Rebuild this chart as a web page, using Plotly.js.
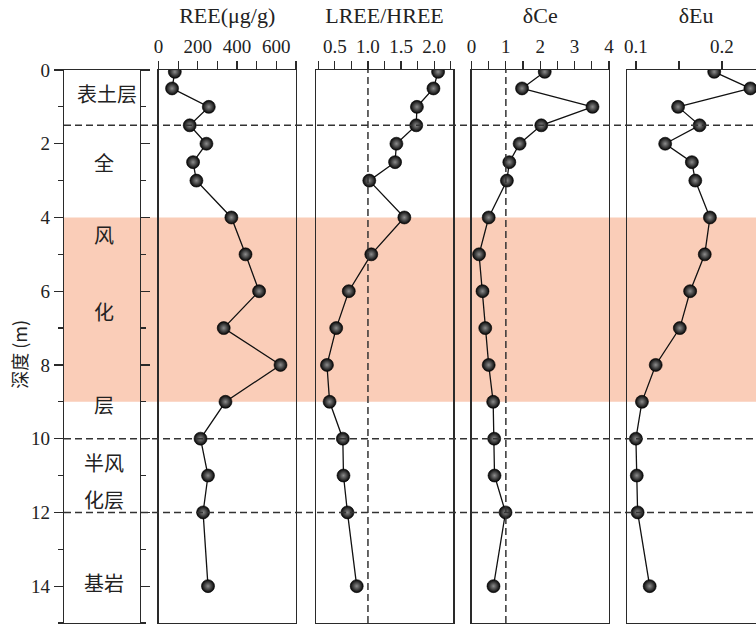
<!DOCTYPE html>
<html>
<head>
<meta charset="utf-8">
<script src="https://cdn.plot.ly/plotly-3.0.1.min.js"></script>
<style>
html,body{margin:0;padding:0;overflow:hidden;background:#fff;}
#chart{width:775px;height:625px;}
</style>
</head>
<body>
<div id="chart"></div>
<script>
// depth (m) of each sample
const depth = [0.05, 0.5, 1, 1.5, 2, 2.5, 3, 4, 5, 6, 7, 8, 9, 10, 11, 12, 14];
// REE (μg/g)
const ree = [83, 69, 256, 159, 244, 176, 193, 371, 443, 512, 332, 621, 341, 214, 252, 227, 252];
// LREE/HREE
const lreeHree = [2.06, 1.99, 1.74, 1.73, 1.43, 1.41, 1.02, 1.55, 1.05, 0.71, 0.52, 0.38, 0.42, 0.62, 0.63, 0.69, 0.83];
// δCe
const deltaCe = [2.13, 1.47, 3.52, 2.03, 1.40, 1.10, 1.03, 0.50, 0.22, 0.32, 0.40, 0.50, 0.63, 0.66, 0.67, 0.99, 0.64];
// δEu
const deltaEu = [0.191, 0.233, 0.149, 0.174, 0.134, 0.165, 0.169, 0.186, 0.180, 0.163, 0.151, 0.123, 0.107, 0.100, 0.101, 0.102, 0.116];

// layer labels
const layerLabels = ['表土层', '全', '风', '化', '层', '半风', '化层', '基岩'];
const layerLabelDepth = [0.65, 2.5, 4.47, 6.55, 9.08, 10.65, 11.65, 13.9];
const layerLabelPos = [0.57, 0.52, 0.52, 0.52, 0.52, 0.52, 0.52, 0.53];
// boundaries
const boundaryDepths = [1.5, 10, 12];
const bandTop = 4, bandBottom = 9;

const W = 775;
const dom = (a, b) => [a / W, b / W];
const serif = 'Liberation Serif, Times New Roman, serif';
const cjk = 'Noto Sans CJK SC, sans-serif';
const lineCol = '#2a2a2a';

function mk(x, xa) {
  return {
    x: x, y: depth, xaxis: xa, yaxis: 'y',
    type: 'scatter', mode: 'lines+markers',
    line: {color: '#111', width: 1.3},
    marker: {size: 13, color: '#050505', gradient: {type: 'radial', color: '#8c8c8c'},
             line: {width: 0.6, color: '#000'}},
    showlegend: false, hoverinfo: 'x+y'
  };
}

const data = [
  mk(ree, 'x2'), mk(lreeHree, 'x3'), mk(deltaCe, 'x4'), mk(deltaEu, 'x5')
];

function topAxis(domain, range, dtick, minorDtick, title, fmt) {
  return {
    domain: domain, range: range, side: 'top', anchor: 'y',
    showline: true, mirror: true, linecolor: lineCol, linewidth: 1.2,
    ticks: 'outside', ticklen: 8, tickwidth: 1.2, tickcolor: lineCol,
    tick0: 0, dtick: dtick, tickformat: fmt || '',
    minor: {dtick: minorDtick, ticks: 'outside', ticklen: 8, tickwidth: 1.2, tickcolor: lineCol},
    showgrid: false, zeroline: false,
    tickfont: {family: serif, size: 19, color: '#222'},
    title: {text: title, font: {family: serif, size: 22, color: '#222'}, standoff: 6},
    fixedrange: true
  };
}

const shapes = [];
// shaded band (behind)
shapes.push({type: 'rect', xref: 'paper', yref: 'y', x0: 64 / W, x1: 1, y0: bandTop, y1: bandBottom,
  fillcolor: '#FACDB8', line: {width: 0}, layer: 'below'});
// horizontal boundary lines
boundaryDepths.forEach(d => shapes.push({type: 'line', xref: 'paper', yref: 'y', x0: 64 / W, x1: 1, y0: d, y1: d,
  line: {color: '#333', width: 1.5, dash: '7px,4px'}}));
// vertical reference lines at 1
['x3', 'x4'].forEach(xa => shapes.push({type: 'line', xref: xa, yref: 'paper', x0: 1, x1: 1, y0: 0, y1: 1,
  line: {color: '#333', width: 1.5, dash: '7px,4px'}}));

const annotations = layerLabels.map((t, i) => ({
  text: t, xref: 'x', yref: 'y', x: layerLabelPos[i], y: layerLabelDepth[i], showarrow: false,
  xanchor: 'center', yanchor: 'middle',
  font: {family: cjk, size: 20, color: '#222'}
}));
annotations.push({text: '深度 (m)', xref: 'paper', yref: 'paper', x: 19 / W, y: 0.485, textangle: -90,
  xanchor: 'center', yanchor: 'middle',
  showarrow: false, font: {family: cjk, size: 18, color: '#222'}});

const layout = {
  width: W, height: 625,
  margin: {l: 0, r: 0, t: 70, b: 2},
  paper_bgcolor: '#fff', plot_bgcolor: 'rgba(0,0,0,0)',
  showlegend: false,
  xaxis: {domain: dom(64, 140), range: [0, 1], showline: true, mirror: true, linecolor: lineCol, linewidth: 1.2,
          showticklabels: false, ticks: '', showgrid: false, zeroline: false, fixedrange: true, side: 'top', anchor: 'y'},
  xaxis2: topAxis(dom(158.5, 296), [0, 700], 200, 100, 'REE(μg/g)'),
  xaxis3: topAxis(dom(315.7, 453.3), [0.21, 2.29], 0.5, 0.25, 'LREE/HREE', '.1f'),
  xaxis4: topAxis(dom(471.5, 609), [0, 4], 1, 0.5, 'δCe'),
  xaxis5: topAxis(dom(627.3, 765), [0.09, 0.25], 0.1, 0.05, 'δEu', '.1f'),
  yaxis: {
    domain: [0, 1], range: [15, 0], anchor: 'x',
    showline: true, mirror: 'all', linecolor: lineCol, linewidth: 1.2,
    ticks: 'outside', ticklen: 9, tickwidth: 1.2, tickcolor: lineCol,
    tick0: 0, dtick: 2,
    minor: {dtick: 1, ticks: 'outside', ticklen: 5, tickwidth: 1.2, tickcolor: lineCol},
    showgrid: false, zeroline: false,
    tickfont: {family: serif, size: 19, color: '#222'},
    fixedrange: true
  },
  shapes: shapes,
  annotations: annotations
};

Plotly.newPlot('chart', data, layout, {displayModeBar: false, staticPlot: true});
</script>
</body>
</html>
